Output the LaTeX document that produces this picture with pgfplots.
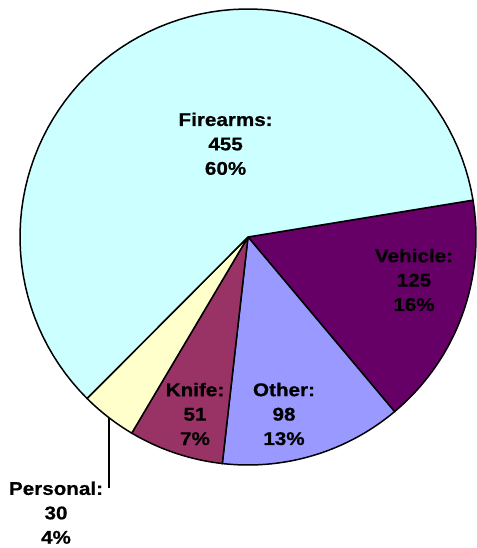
\documentclass[border=0pt]{standalone}
\usepackage{fontspec}
\usepackage{pgfplots}
\usepackage{pgfplotstable}
\pgfplotsset{compat=1.18}
\newfontfamily\lab[FakeStretch=1.12, FakeBold=0.6]{Liberation Sans Bold}

\definecolor{fire}{HTML}{CCFFFF}
\definecolor{vehc}{HTML}{660066}
\definecolor{othc}{HTML}{9999FF}
\definecolor{knic}{HTML}{993366}
\definecolor{perc}{HTML}{FFFFCC}

% slices in clockwise order, starting at the upper right
\pgfplotstableread{
label value
Vehicle 125
Other 98
Knife 51
Personal 30
Firearms 455
}\piedata

\pgfplotstablegetelem{0}{value}\of\piedata\let\vVeh\pgfplotsretval
\pgfplotstablegetelem{1}{value}\of\piedata\let\vOth\pgfplotsretval
\pgfplotstablegetelem{2}{value}\of\piedata\let\vKni\pgfplotsretval
\pgfplotstablegetelem{3}{value}\of\piedata\let\vPer\pgfplotsretval
\pgfplotstablegetelem{4}{value}\of\piedata\let\vFir\pgfplotsretval
\pgfmathsetmacro\total{\vVeh+\vOth+\vKni+\vPer+\vFir}
\pgfmathsetmacro\degper{360/\total}
\def\aZero{9.3}
\pgfmathsetmacro\aOne{\aZero-\degper*\vVeh}
\pgfmathsetmacro\aTwo{\aOne-\degper*\vOth}
\pgfmathsetmacro\aThree{\aTwo-\degper*\vKni}
\pgfmathsetmacro\aFour{\aThree-\degper*\vPer}
\pgfmathsetmacro\aFive{\aFour-\degper*\vFir}

\begin{document}
\begin{tikzpicture}[
    lbl/.style={align=center, font=\lab\fontsize{18.5}{24.5}\selectfont},
]
\begin{axis}[
    width=476bp, height=548bp, scale only axis,
    xmin=0, xmax=476, ymin=0, ymax=548,
    hide axis, clip=false,
    slice/.style={draw=black, line width=1.5bp, samples=80, variable=\t},
]
\path (rel axis cs:0,0) rectangle (rel axis cs:1,1);
\addplot[slice, fill=vehc, domain=\aOne:\aZero] ({248+228*cos(\t)},{311+228*sin(\t)}) -- (248,311) -- cycle;
\addplot[slice, fill=othc, domain=\aTwo:\aOne] ({248+228*cos(\t)},{311+228*sin(\t)}) -- (248,311) -- cycle;
\addplot[slice, fill=knic, domain=\aThree:\aTwo] ({248+228*cos(\t)},{311+228*sin(\t)}) -- (248,311) -- cycle;
\addplot[slice, fill=perc, domain=\aFour:\aThree] ({248+228*cos(\t)},{311+228*sin(\t)}) -- (248,311) -- cycle;
\addplot[slice, fill=fire, domain=\aFive:\aFour] ({248+228*cos(\t)},{311+228*sin(\t)}) -- (248,311) -- cycle;
% leader line for the small slice
\addplot[black, line width=1.2bp] coordinates {(109,130) (109,60)};
\node[lbl] at (225.6,404.2) {Firearms:\\455\\60\%};
\node[lbl] at (414,268) {Vehicle:\\125\\16\%};
\node[lbl] at (284,134) {Other:\\98\\13\%};
\node[lbl] at (195,134) {Knife:\\51\\7\%};
\node[lbl] at (56,35.3) {Personal:\\30\\4\%};
\end{axis}
\end{tikzpicture}
\end{document}
